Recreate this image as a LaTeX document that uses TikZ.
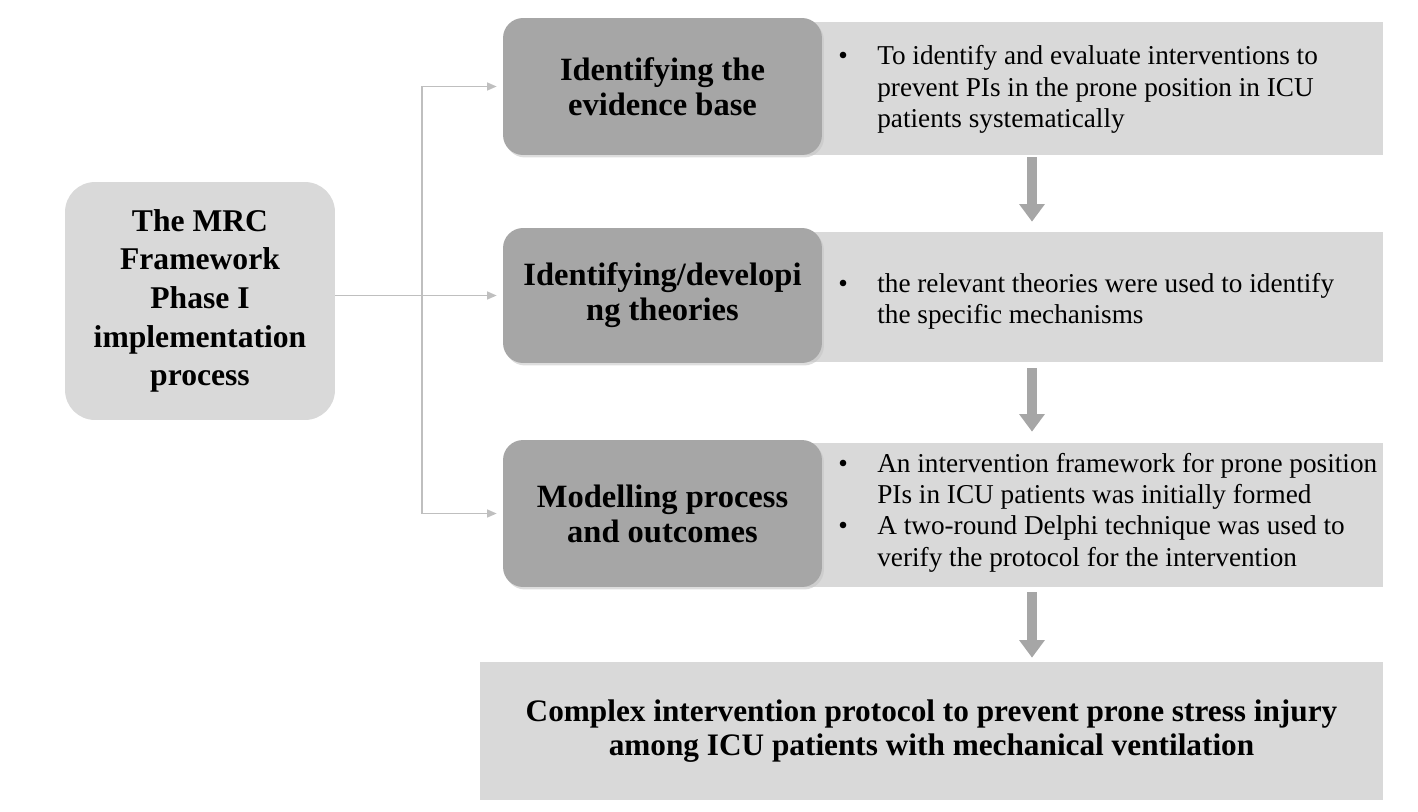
\documentclass[tikz,border=0pt]{standalone}
\usepackage{fontspec}
\setmainfont{Liberation Serif}
\usetikzlibrary{positioning,arrows.meta,shadows}
\definecolor{lightfill}{HTML}{D9D9D9}
\definecolor{darkfill}{HTML}{A6A6A6}
\definecolor{linkgray}{HTML}{BFBFBF}

\begin{document}
\begin{tikzpicture}[x=0.02cm,y=-0.02cm,
          every node/.style={font=\fontsize{15.5}{17.8}\selectfont},
          mrcbox/.style={rounded corners=0.6cm,fill=lightfill,minimum width=5.4cm,minimum height=4.76cm,
            align=center,font=\fontsize{18}{22}\selectfont\bfseries},
          stagebox/.style={rounded corners=0.4cm,fill=darkfill,minimum width=6.38cm,align=center,
            font=\fontsize{18.5}{20}\selectfont\bfseries,
            drop shadow={shadow xshift=0.04cm,shadow yshift=-0.05cm,fill=gray!45,opacity=0.6}},
          infobox/.style={fill=lightfill,minimum width=11.86cm},
          infotext/.style={anchor=west,inner sep=0pt,align=left},
          resultbox/.style={fill=lightfill,minimum width=18.06cm,minimum height=2.76cm,align=center,
            font=\fontsize{17.8}{19.5}\selectfont\bfseries},
          link/.style={linkgray,line width=1pt,-{Triangle[length=5.5pt,width=4.5pt]},shorten >=3.4pt},
          flow/.style={darkfill,line width=5.7pt,-{Triangle[length=10pt,width=14pt]}},
        ]
        \useasboundingbox (0,0) rectangle (1418,812);

        % left box
        \node[mrcbox] (mrc) at (200,301) {The MRC\\Framework\\Phase I\\implementation\\process};

        % light boxes with the bullet texts
        \node[infobox,minimum height=2.66cm] (evinfo) at (1086.5,88.5) {};
        \node[infobox,minimum height=2.6cm] (thinfo) at (1086.5,297) {};
        \node[infobox,minimum height=2.88cm] (modinfo) at (1086.5,515) {};

        \node[infotext] (evtext) at (838,90) {\begin{tabular}{@{}p{0.78cm}@{}l@{}}
            \textbullet & To identify and evaluate interventions to\\
            & prevent PIs in the prone position in ICU\\
            & patients systematically\end{tabular}};
        \node[infotext] (thtext) at (838,302) {\begin{tabular}{@{}p{0.78cm}@{}l@{}}
            \textbullet & the relevant theories were used to identify\\
            & the specific mechanisms\end{tabular}};
        \node[infotext] (modtext) at (838,513) {\begin{tabular}{@{}p{0.78cm}@{}l@{}}
            \textbullet & An intervention framework for prone position\\
            & PIs in ICU patients was initially formed\\
            \textbullet & A two-round Delphi technique was used to\\
            & verify the protocol for the intervention\end{tabular}};

        % dark stage boxes
        \node[stagebox,minimum height=2.74cm] (evstage) at (662.5,86.5) {Identifying the\\evidence base};
        \node[stagebox,minimum height=2.7cm] (thstage) at (662.5,295.5) {Identifying/developi\\ng theories};
        \node[stagebox,minimum height=2.94cm] (modstage) at (662.5,513.5) {Modelling process\\and outcomes};

        % result
        \node[resultbox] (result) at (931.5,731) {Complex intervention protocol to prevent prone stress injury\\
          among ICU patients with mechanical ventilation};

        % thin connectors
        \path (thstage.west) ++(-81,0) coordinate (split);
        \draw[link] (thstage.west -| mrc.east) -- (thstage.west);
        \draw[link] (split) |- (evstage.west);
        \draw[link] (split) |- (modstage.west);

        % thick arrows
        \coordinate (fx) at (1032,0);
        \draw[flow,shorten <=0.04cm,shorten >=0.2cm] (evinfo.south -| fx) -- (thinfo.north -| fx);
        \draw[flow,shorten <=0.12cm,shorten >=0.22cm] (thinfo.south -| fx) -- (modinfo.north -| fx);
        \draw[flow,shorten <=0.1cm,shorten >=0.08cm] (modinfo.south -| fx) -- (result.north -| fx);
      \end{tikzpicture}
\end{document}
